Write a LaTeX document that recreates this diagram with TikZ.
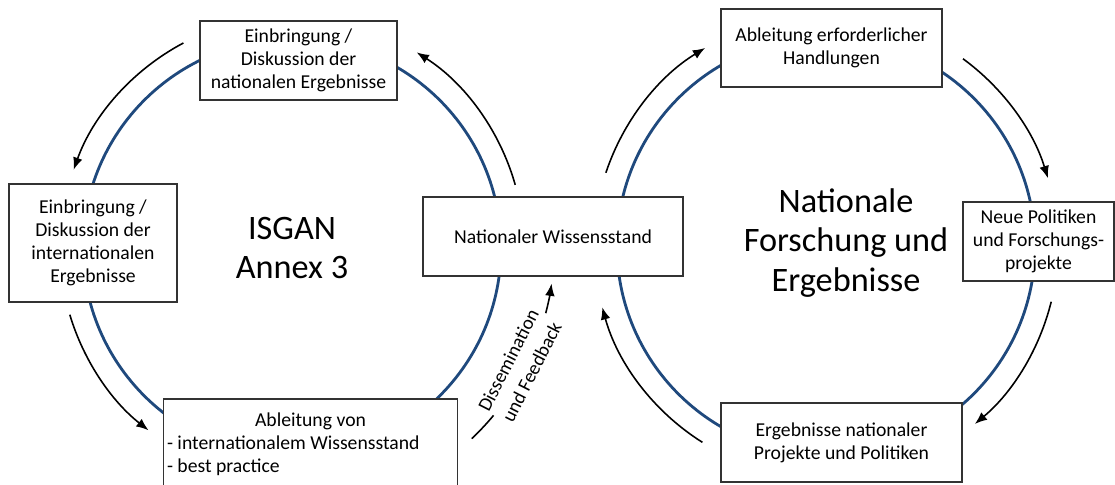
\documentclass[tikz,border=0pt]{standalone}
\usepackage{fontspec}
\setmainfont{Carlito}
\usetikzlibrary{arrows.meta}
\definecolor{ringblue}{RGB}{31,73,125}
\tikzset{>={Latex[length=7pt,width=5.5pt]}}

\begin{document}
\begin{tikzpicture}[x=0.02cm,y=0.02cm]

  % one pixel of the layout = one unit
  \tikzset{
    box/.style={draw=black!80, fill=white, line width=0.7pt, align=center,
      inner sep=2pt, font=\fontsize{11.2}{13.2}\selectfont},
    ring/.style={draw=ringblue, line width=1.6pt},
    flow/.style={->, line width=0.9pt},
    big/.style={align=center, font=\fontsize{19.5}{22.7}\selectfont}
  }
  \useasboundingbox (0,0) rectangle (1115,-484);

  \coordinate (L) at (292,-248);
  \coordinate (R) at (826,-246);
  \draw[ring] (L) circle (209);
  \draw[ring] (R) circle (209);

  % left cycle (counter clockwise)
  \draw[flow] ([shift={(117.9:232)}]L) arc (117.9:160.3:232);
  \draw[flow] ([shift={(196.7:232)}]L) arc (196.7:231.8:232);
  \draw[flow] ([shift={(15.8:232)}]L) arc (15.8:57.5:232);
  \draw[line width=0.9pt] ([shift={(-46.7:262)}]L) arc (-46.7:-39.7:262);
  \draw[flow] ([shift={(-14.4:262)}]L) arc (-14.4:-7.8:262);

  % right cycle (clockwise)
  \draw[flow] ([shift={(161.6:232)}]R) arc (161.6:121.4:232);
  \draw[flow] ([shift={(53.8:232)}]R) arc (53.8:17.0:232);
  \draw[flow] ([shift={(-13.9:232)}]R) arc (-13.9:-50.1:232);
  \draw[flow] ([shift={(-122.2:232)}]R) arc (-122.2:-164.7:232);

  \node[big] (isgan) at (L) {ISGAN\\Annex 3};
  \node[big] (natfor) at (846,-243) {Nationale\\Forschung und\\Ergebnisse};
  \node[align=center, rotate=63, inner sep=0pt, font=\fontsize{11}{15}\selectfont]
    (diss) at (520,-366) {Dissemination\\und Feedback};

  \node[box, minimum width=3.94cm, minimum height=1.58cm] (natErg) at (298.5,-60.5)
    {Einbringung /\\Diskussion der\\nationalen Ergebnisse};
  \node[box, minimum width=3.36cm, minimum height=2.36cm] (intErg) at (93,-243)
    {Einbringung /\\Diskussion der\\internationalen\\Ergebnisse};
  \node[box, align=flush left, text width=5.74cm, minimum height=1.82cm] (ableit) at (310.5,-444.5)
    {\null\hfill Ableitung von\hfill\null\\- internationalem Wissensstand\\- best practice};
  \node[box, minimum width=5.2cm, minimum height=1.58cm] (natWiss) at (553,-236.5)
    {Nationaler Wissensstand};
  \node[box, minimum width=4.42cm, minimum height=1.56cm] (handl) at (831.5,-48)
    {Ableitung erforderlicher\\Handlungen};
  \node[box, minimum width=3.02cm, minimum height=1.58cm] (neuePol) at (1038.5,-241.5)
    {Neue Politiken\\und Forschungs-\\projekte};
  \node[box, minimum width=4.82cm, minimum height=1.58cm] (projErg) at (841.5,-442.5)
    {Ergebnisse nationaler\\Projekte und Politiken};

\end{tikzpicture}
\end{document}
